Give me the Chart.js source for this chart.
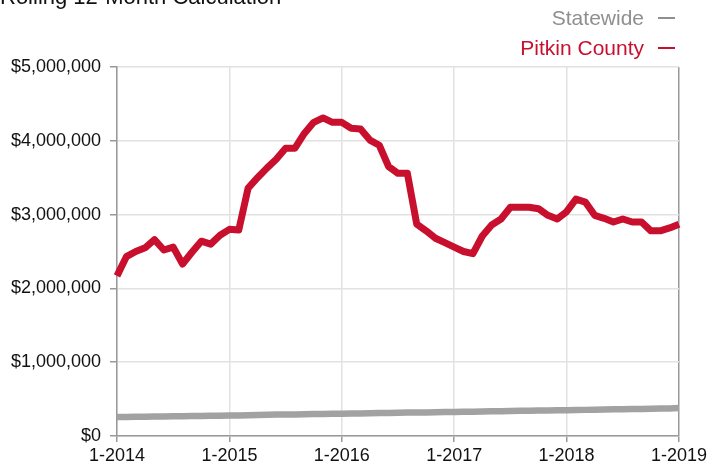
<!DOCTYPE html>
<html>
<head>
<meta charset="utf-8">
<script src="https://cdn.jsdelivr.net/npm/chart.js@4/dist/chart.umd.min.js"></script>
<style>
  html, body { margin: 0; padding: 0; background: #fff; }
  #wrap { position: relative; width: 707px; height: 468px; }
</style>
</head>
<body>
<div id="wrap"><canvas id="c" width="707" height="468"></canvas></div>
<script>
const titleText = "Rolling 12-Month Calculation";
const seriesNames = ["Statewide", "Pitkin County"];

const months = [
  "1-2014","2-2014","3-2014","4-2014","5-2014","6-2014","7-2014","8-2014","9-2014","10-2014","11-2014","12-2014",
  "1-2015","2-2015","3-2015","4-2015","5-2015","6-2015","7-2015","8-2015","9-2015","10-2015","11-2015","12-2015",
  "1-2016","2-2016","3-2016","4-2016","5-2016","6-2016","7-2016","8-2016","9-2016","10-2016","11-2016","12-2016",
  "1-2017","2-2017","3-2017","4-2017","5-2017","6-2017","7-2017","8-2017","9-2017","10-2017","11-2017","12-2017",
  "1-2018","2-2018","3-2018","4-2018","5-2018","6-2018","7-2018","8-2018","9-2018","10-2018","11-2018","12-2018",
  "1-2019"
];

const pitkin = [
  2170000,2430000,2500000,2550000,2660000,2520000,2560000,2330000,2490000,2640000,2600000,2720000,
  2800000,2790000,3360000,3500000,3630000,3750000,3900000,3900000,4100000,4250000,4310000,4250000,
  4250000,4170000,4160000,4010000,3940000,3650000,3560000,3560000,2870000,2780000,2680000,2620000,
  2560000,2500000,2470000,2710000,2860000,2940000,3100000,3100000,3100000,3080000,2990000,2940000,
  3040000,3210000,3170000,2990000,2950000,2900000,2940000,2900000,2900000,2780000,2780000,2820000,
  2870000
];

const statewide = [
  258000,259000,261000,262000,263000,265000,266000,268000,270000,271000,273000,275000,
  277000,279000,282000,285000,287000,290000,292000,293000,295000,297000,299000,300000,
  302000,304000,306000,308000,310000,313000,315000,317000,319000,320000,322000,324000,
  326000,328000,330000,333000,335000,337000,339000,341000,343000,344000,346000,348000,
  350000,352000,354000,357000,359000,361000,363000,365000,367000,369000,371000,373000,
  378000
];

const yTickValues = [0, 1000000, 2000000, 3000000, 4000000, 5000000];
const yTickLabels = ["$0", "$1,000,000", "$2,000,000", "$3,000,000", "$4,000,000", "$5,000,000"];

const RED = "#c8102e";
const GRAY = "#a2a2a2";
const FONT = "'Liberation Sans', Arial, Helvetica, sans-serif";

const overlay = {
  id: "overlay",
  afterDraw(chart) {
    const ctx = chart.ctx;
    ctx.save();
    ctx.textBaseline = "alphabetic";
    ctx.textAlign = "left";
    ctx.fillStyle = "#111";
    ctx.font = "22px " + FONT;
    ctx.fillText(titleText, 0, 4);

    ctx.textAlign = "right";
    ctx.font = "21px " + FONT;
    const items = [[seriesNames[0], "#8f8f8f", 25], [seriesNames[1], RED, 55]];
    for (const [t, col, y] of items) {
      ctx.fillStyle = col;
      ctx.fillText(t, 644, y);
      ctx.strokeStyle = col;
      ctx.lineWidth = 2;
      ctx.beginPath();
      ctx.moveTo(658, y - 7);
      ctx.lineTo(675, y - 7);
      ctx.stroke();
    }
    ctx.restore();
  }
};

new Chart(document.getElementById("c"), {
  type: "line",
  data: {
    labels: months,
    datasets: [
      { label: seriesNames[0], data: statewide, borderColor: GRAY, borderWidth: 6.5, pointRadius: 0, tension: 0, borderJoinStyle: "round" },
      { label: seriesNames[1], data: pitkin, borderColor: RED, borderWidth: 7, pointRadius: 0, tension: 0, borderJoinStyle: "round" }
    ]
  },
  options: {
    responsive: false,
    animation: false,
    devicePixelRatio: 1,
    layout: { padding: { left: 0, right: 28, top: 67, bottom: 0 } },
    plugins: { legend: { display: false }, title: { display: false }, tooltip: { enabled: false } },
    scales: {
      x: {
        type: "category",
        offset: false,
        grid: {
          color: (c) => {
            const i = c.index;
            if (i === months.length - 1) return "#999";
            return (i % 12 === 0) ? "#e2e2e2" : "rgba(0,0,0,0)";
          },
          tickColor: (c) => (c.index % 12 === 0 ? "#999" : "rgba(0,0,0,0)"),
          tickLength: 6,
          lineWidth: 1.5
        },
        border: { color: "#999", width: 1.5 },
        ticks: {
          autoSkip: false,
          maxRotation: 0,
          padding: 3,
          color: "#111",
          font: { family: FONT, size: 18 },
          callback: function (v, i) { return (i % 12 === 0) ? months[i] : ""; }
        },
        afterFit: (s) => { s.height = 32; s.paddingLeft = 0; s.paddingRight = 0; }
      },
      y: {
        min: 0,
        max: 5000000,
        afterBuildTicks: (s) => { s.ticks = yTickValues.map(v => ({ value: v })); },
        grid: { color: "#e2e2e2", tickColor: "#999", tickLength: 7, lineWidth: 1.5 },
        border: { color: "#999", width: 1.5 },
        ticks: {
          padding: 9,
          color: "#111",
          font: { family: FONT, size: 18 },
          callback: (v) => yTickLabels[yTickValues.indexOf(v)]
        },
        afterFit: (s) => { s.width = 117; s.paddingTop = 0; s.paddingBottom = 0; }
      }
    }
  },
  plugins: [overlay]
});
</script>
</body>
</html>
